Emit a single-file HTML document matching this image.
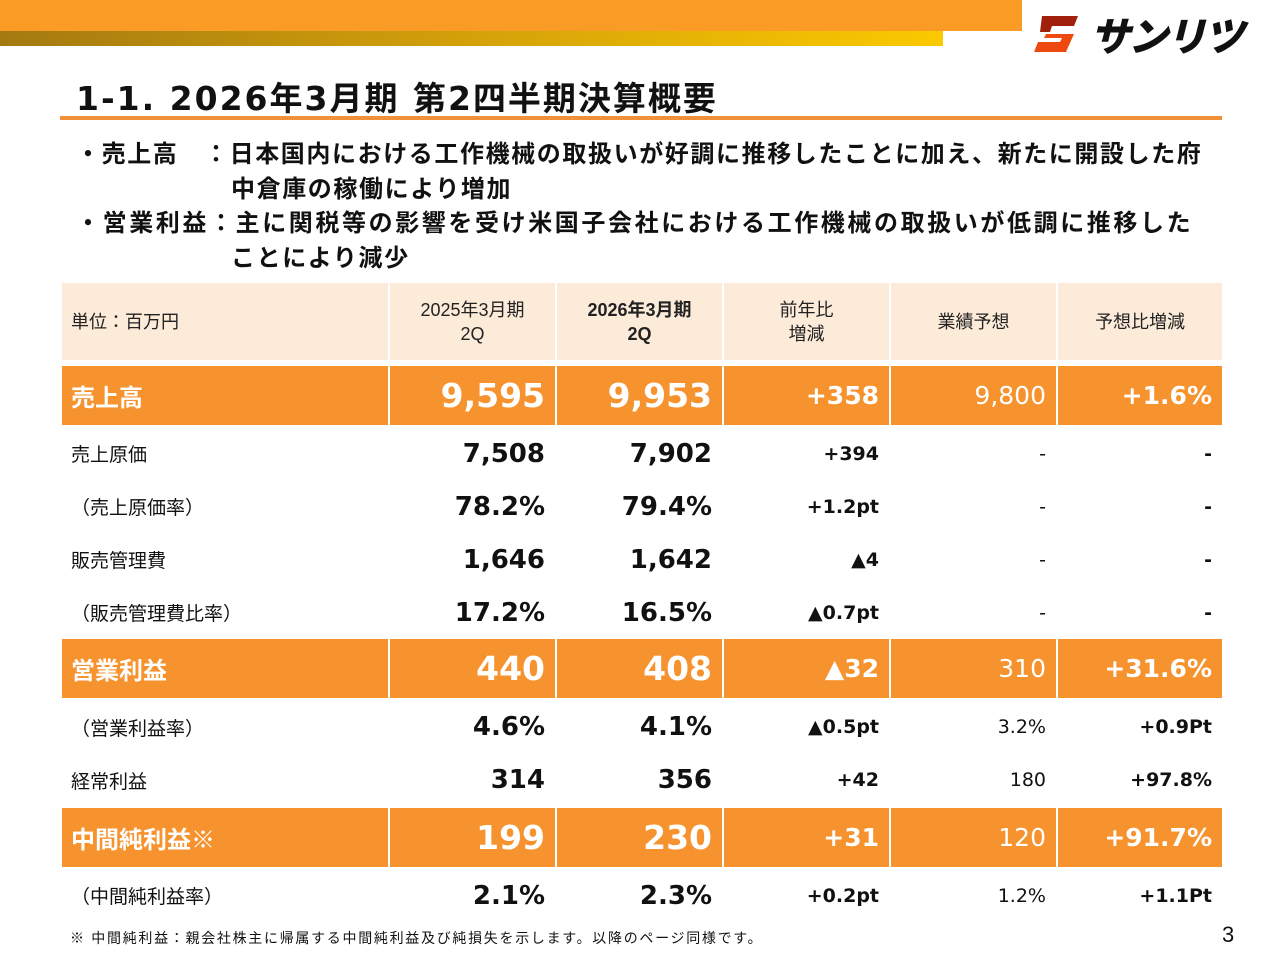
<!DOCTYPE html>
<html><head><meta charset="utf-8"><style>
body{margin:0;width:1280px;height:960px;background:#fff;position:relative;overflow:hidden;font-family:"Liberation Sans","Noto Sans CJK JP",sans-serif;color:#111}
div{position:absolute;box-sizing:border-box}
.c{display:flex;align-items:center;white-space:nowrap}
.r{justify-content:flex-end;padding-right:10px}
.cen{justify-content:center;text-align:center}
.b{font-weight:bold}
.n{font-family:"DejaVu Sans","Noto Sans CJK JP",sans-serif}
</style></head><body>
<div style="left:0;top:0;width:1022px;height:31px;background:#f99b25"></div>
<div style="left:0;top:31px;width:943px;height:15px;background:linear-gradient(90deg,#a47a10,#d4a10a 50%,#fbc900)"></div>
<div class="c" style="left:1032px;top:12px;width:230px;height:44px">
<svg width="52" height="40" viewBox="0 0 52 40"><polygon points="10,2 46,2 42,12 20,12 18,18 8,18" fill="#a0200c"/><polygon points="14,20 42,20 34,38 2,38 6,28 28,28 30,24 12,24" fill="#ee4a10"/></svg>
<span style="font-size:40px;font-weight:900;font-style:italic;letter-spacing:-2px;margin-left:6px">サンリツ</span></div>
<div class="c b" style="left:76px;top:76px;height:40px;font-size:33px;letter-spacing:2px;font-family:'DejaVu Sans','Noto Sans CJK JP',sans-serif">1-1. 2026年3月期 第2四半期決算概要</div>
<div style="left:60px;top:116px;width:1162px;height:4px;background:#f0913a"></div>
<div class="b" style="left:76px;top:138px;width:1200px;font-size:24px;line-height:34.5px;white-space:nowrap">
<div style="position:relative;letter-spacing:1.6px">・売上高　：日本国内における工作機械の取扱いが好調に推移したことに加え、新たに開設した府</div>
<div style="position:relative;padding-left:155px;letter-spacing:1.6px">中倉庫の稼働により増加</div>
<div style="position:relative;letter-spacing:2.6px">・営業利益：主に関税等の影響を受け米国子会社における工作機械の取扱いが低調に推移した</div>
<div style="position:relative;padding-left:155px;letter-spacing:1.6px">ことにより減少</div>
</div>
<div id="tbl" style="left:0;top:0;width:1280px;height:960px"></div>
<div style="left:70px;top:928px;font-size:14px;letter-spacing:1.7px">※ 中間純利益：親会社株主に帰属する中間純利益及び純損失を示します。以降のページ同様です。</div>
<div style="left:1222px;top:922px;font-size:22px">3</div>
<script>
const colX=[62,390,557,724,891,1058];const colW=[326,165,165,165,165,164];
const headers=["単位：百万円","2025年3月期<br>2Q","2026年3月期<br>2Q","前年比<br>増減","業績予想","予想比増減"];
const rowLabels=["売上高","売上原価","（売上原価率）","販売管理費","（販売管理費比率）","営業利益","（営業利益率）","経常利益","中間純利益※","（中間純利益率）"];
const prev=["9,595","7,508","78.2%","1,646","17.2%","440","4.6%","314","199","2.1%"];
const curr=["9,953","7,902","79.4%","1,642","16.5%","408","4.1%","356","230","2.3%"];
const diff=["+358","+394","+1.2pt","▲4","▲0.7pt","▲32","▲0.5pt","+42","+31","+0.2pt"];
const forecast=["9,800","-","-","-","-","310","3.2%","180","120","1.2%"];
const fdiff=["+1.6%","-","-","-","-","+31.6%","+0.9Pt","+97.8%","+91.7%","+1.1Pt"];
const hl=[1,0,0,0,0,1,0,0,1,0];
const rowTop=[366,427,480,533,586,639,700,754,808,869];const rowH=[59,53,53,53,53,59,54,52,59,53];
const T=document.getElementById('tbl');
function cell(x,y,w,h,html,cls,style,name){const d=document.createElement('div');d.className='c '+cls;d.style.cssText=`left:${x}px;top:${y}px;width:${w}px;height:${h}px;`+style;d.innerHTML=html;


T.appendChild(d);}
headers.forEach((h,i)=>cell(colX[i],283,colW[i],77,h,i==0?'':'cen',`background:#fdebd9;font-size:18px;line-height:24px;${i==0?'padding-left:9px;':''}${i==2?'font-weight:bold;':''}color:#222`,'header-cell'));
rowLabels.forEach((l,r)=>{
 const o=hl[r];const bg=o?'background:#f7932f;':'';const fc=o?'color:#fff;':'';
 const big=o?33:26;
 cell(colX[0],rowTop[r],colW[0],rowH[r],l,'',bg+fc+`padding-left:9px;font-size:${o?24:19}px;${o?'font-weight:bold;':''}`,'row-label');
 cell(colX[1],rowTop[r],colW[1],rowH[r],prev[r],'r b n',bg+fc+`font-size:${big}px`,'prev-value');
 cell(colX[2],rowTop[r],colW[2],rowH[r],curr[r],'r b n',bg+fc+`font-size:${big}px`,'curr-value');
 cell(colX[3],rowTop[r],colW[3],rowH[r],diff[r],'r b n',bg+fc+`font-size:${o?25:19}px`,'yoy-change');
 cell(colX[4],rowTop[r],colW[4],rowH[r],forecast[r],'r n',bg+fc+`font-size:${o?25:19}px`,'forecast');
 cell(colX[5],rowTop[r],colW[5],rowH[r],fdiff[r],'r b n',bg+fc+`font-size:${o?25:19}px`,'forecast-change');
});
</script>
</body></html>
